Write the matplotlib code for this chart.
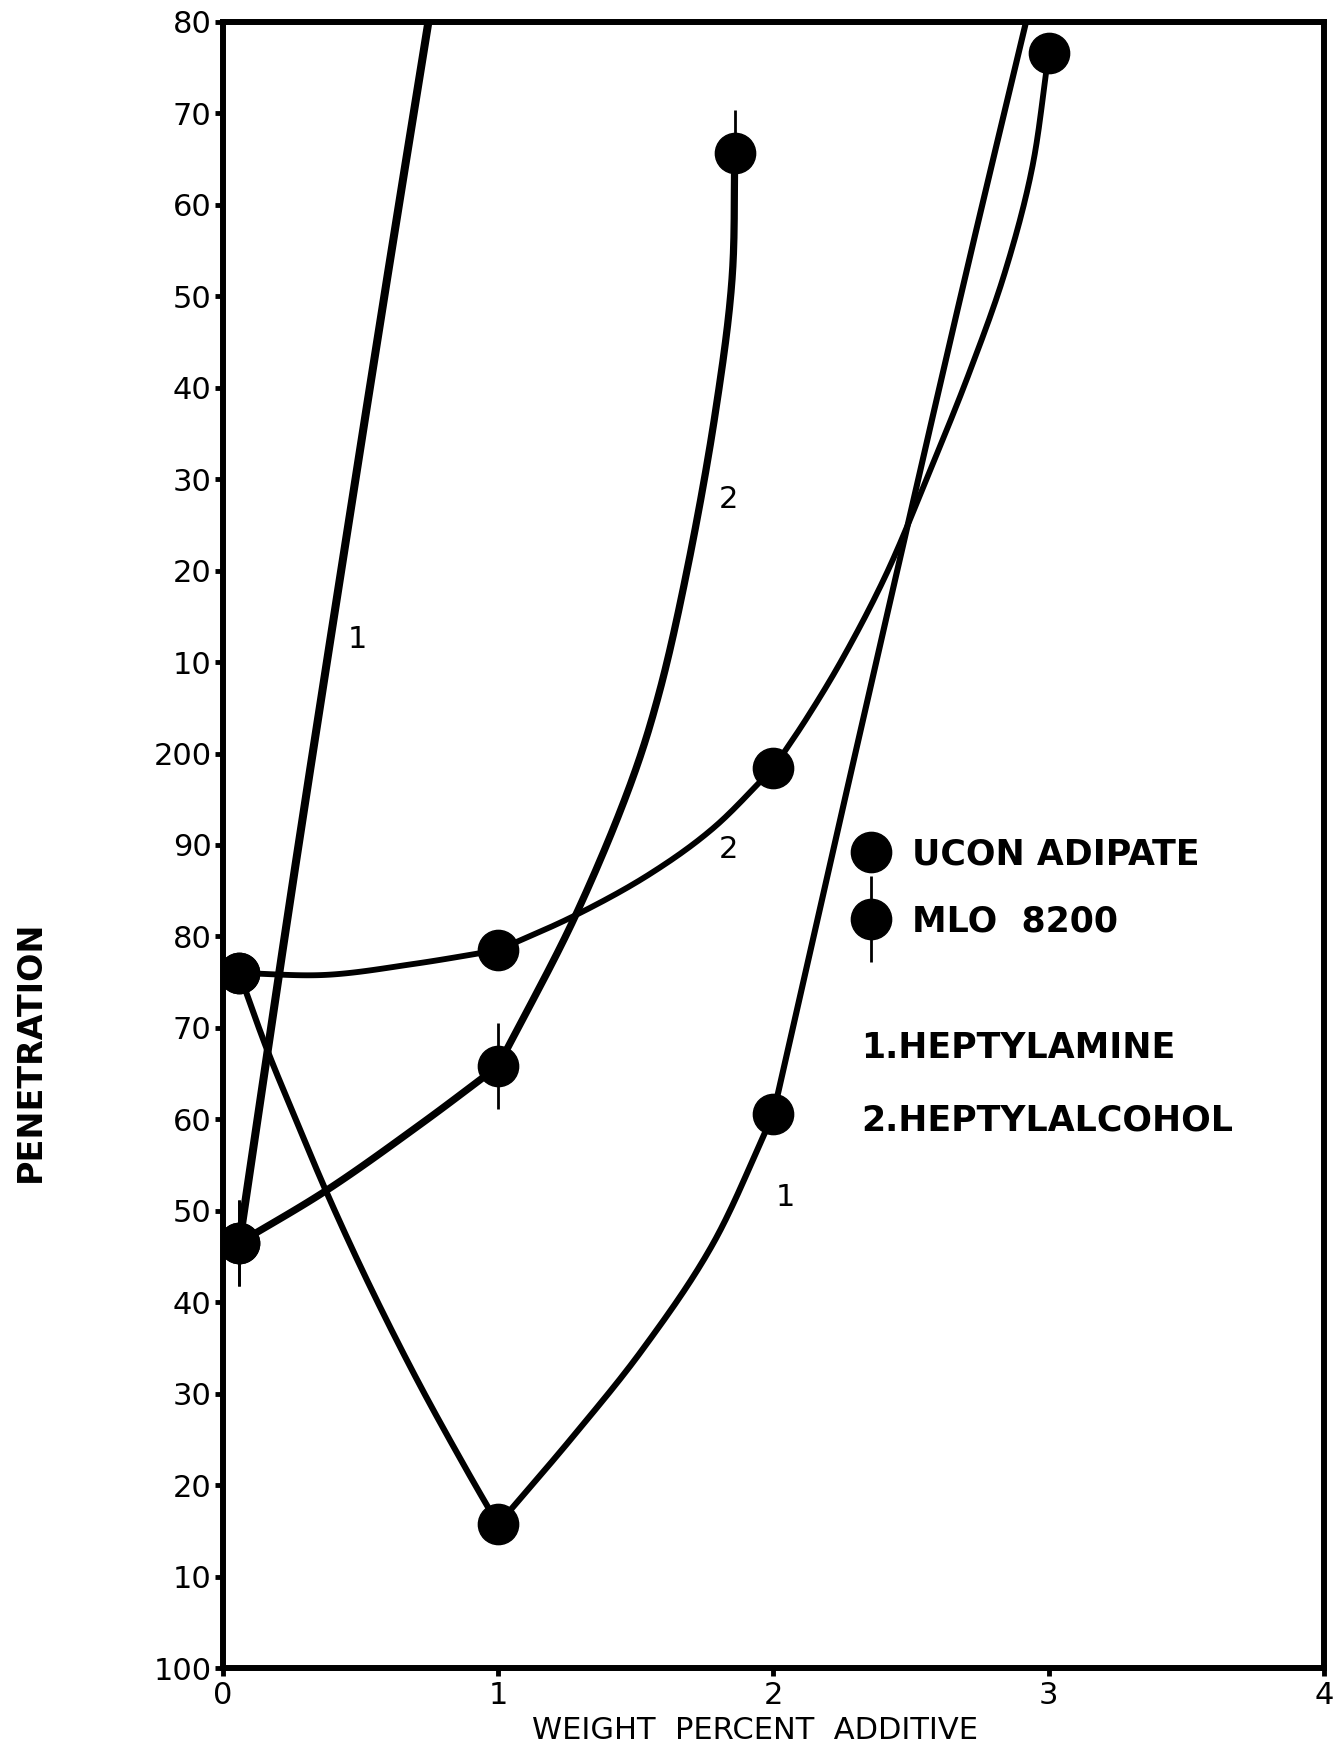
import numpy as np
import matplotlib
matplotlib.use("Agg")
import matplotlib.pyplot as plt
from matplotlib.lines import Line2D
from matplotlib.legend_handler import HandlerTuple

# measured points: weight percent additive vs penetration
ucon_amine_x = [0.06, 1.0, 2.0]
ucon_amine_y = [176.0, 115.7, 160.6]
ucon_alcohol_x = [0.06, 1.0, 2.0, 3.0]
ucon_alcohol_y = [176.0, 178.5, 198.4, 276.6]
mlo_amine_x = [0.06]
mlo_amine_y = [146.5]
mlo_alcohol_x = [0.06, 1.0, 1.86]
mlo_alcohol_y = [146.5, 165.8, 265.7]

# faired curves through the points (as drawn on the sheet)
ucon_amine_cx = [0.06, 0.16, 0.268, 0.376, 0.529, 0.708, 0.887, 1.0,
                 1.269, 1.524, 1.779, 2.0,
                 2.19, 2.45, 2.70, 2.918]
ucon_amine_cy = [176.0, 167.7, 159.8, 152.1, 142.1, 131.4, 121.6, 115.7,
                 125.2, 134.8, 146.3, 160.6,
                 185.8, 220.0, 252.5, 280.0]

ucon_alcohol_cx = [0.06, 0.376, 0.695, 1.0,
                   1.28, 1.55, 1.78, 2.0,
                   2.12, 2.25, 2.41, 2.57, 2.71, 2.84, 2.94, 3.0]
ucon_alcohol_cy = [176.0, 175.8, 177.0, 178.5,
                   182.3, 186.8, 191.8, 198.4,
                   203.8, 210.3, 219.6, 231.0, 241.5, 252.5, 264.0, 276.6]

mlo_amine_cx = [0.06, 0.25, 0.43, 0.60, 0.747]
mlo_amine_cy = [146.5, 185.0, 220.0, 252.5, 280.0]

mlo_alcohol_cx = [0.06, 0.38, 0.72, 1.0,
                  1.28, 1.484, 1.585, 1.687, 1.789, 1.85, 1.86]
mlo_alcohol_cy = [146.5, 152.3, 159.5, 165.8,
                  182.2, 196.9, 206.6, 220.1, 237.2, 251.9, 265.7]

yticks = list(range(100, 290, 10))
ytick_labels = [str(v) if v % 100 == 0 else str(v % 100) for v in yticks]
xticks = [0, 1, 2, 3, 4]


def centripetal_spline(p, n=40):
    # centripetal Catmull-Rom through the rows of p (screen units)
    p = np.vstack([2 * p[0] - p[1], p, 2 * p[-1] - p[-2]])
    out = []
    for i in range(1, len(p) - 2):
        p0, p1, p2, p3 = p[i - 1], p[i], p[i + 1], p[i + 2]
        t0 = 0.0
        t1 = t0 + np.linalg.norm(p1 - p0) ** 0.5
        t2 = t1 + np.linalg.norm(p2 - p1) ** 0.5
        t3 = t2 + np.linalg.norm(p3 - p2) ** 0.5
        t = np.linspace(t1, t2, n, endpoint=False)[:, None]
        a1 = (t1 - t) / (t1 - t0) * p0 + (t - t0) / (t1 - t0) * p1
        a2 = (t2 - t) / (t2 - t1) * p1 + (t - t1) / (t2 - t1) * p2
        a3 = (t3 - t) / (t3 - t2) * p2 + (t - t2) / (t3 - t2) * p3
        b1 = (t2 - t) / (t2 - t0) * a1 + (t - t0) / (t2 - t0) * a2
        b2 = (t3 - t) / (t3 - t1) * a2 + (t - t1) / (t3 - t1) * a3
        out.append((t2 - t) / (t2 - t1) * b1 + (t - t1) / (t2 - t1) * b2)
    out.append(p[-2][None, :])
    return np.vstack(out)


def draw_curve(ax, cx, cy, px, lw):
    # split the faired curve at the plotted points so corners stay sharp
    cuts = [i for i, x in enumerate(cx) if x in px]
    if cuts[-1] != len(cx) - 1:
        cuts.append(len(cx) - 1)
    pts = ax.transData.transform(np.column_stack([cx, cy]))
    inv = ax.transData.inverted()
    for a, b in zip(cuts[:-1], cuts[1:]):
        seg = inv.transform(centripetal_spline(pts[a:b + 1]))
        ax.plot(seg[:, 0], seg[:, 1], color="black", lw=lw,
                solid_capstyle="butt", zorder=2)


fig = plt.figure(figsize=(13.42, 17.54), dpi=100)
ax = fig.add_axes([0.1660, 0.0490, 0.8205, 0.9385])
ax.set_xlim(0, 4)
ax.set_ylim(100, 280)

draw_curve(ax, mlo_amine_cx, mlo_amine_cy, mlo_amine_x, 5.8)
draw_curve(ax, mlo_alcohol_cx, mlo_alcohol_cy, mlo_alcohol_x, 5.2)
draw_curve(ax, ucon_alcohol_cx, ucon_alcohol_cy, ucon_alcohol_x, 4.2)
draw_curve(ax, ucon_amine_cx, ucon_amine_cy, ucon_amine_x, 4.4)

ms = 29
ax.plot(ucon_amine_x + ucon_alcohol_x, ucon_amine_y + ucon_alcohol_y,
        ls="none", marker="o", ms=ms, color="black", zorder=4)
ax.plot(mlo_amine_x + mlo_alcohol_x, mlo_amine_y + mlo_alcohol_y,
        ls="none", marker="o", ms=ms, color="black", zorder=4)
ax.plot(mlo_amine_x + mlo_alcohol_x, mlo_amine_y + mlo_alcohol_y,
        ls="none", marker="|", ms=62, mew=2.0, color="black", zorder=4)

# curve numbers
ax.text(0.488, 212.5, "1", fontsize=22, ha="center", va="center")
ax.text(1.837, 227.8, "2", fontsize=22, ha="center", va="center")
ax.text(1.837, 189.5, "2", fontsize=22, ha="center", va="center")
ax.text(2.045, 151.4, "1", fontsize=22, ha="center", va="center")

ax.set_xlim(0, 4)
ax.set_ylim(100, 280)
ax.set_xticks(xticks)
ax.set_xticklabels([str(v) for v in xticks])
ax.set_yticks(yticks)
ax.set_yticklabels(ytick_labels)
ax.tick_params(axis="both", direction="out", length=6, width=3.5,
               labelsize=22, color="black")
ax.tick_params(axis="y", pad=2)
ax.tick_params(axis="x", pad=3)
for s in ax.spines.values():
    s.set_linewidth(4.3)
    s.set_zorder(5)

ax.set_xlabel("WEIGHT  PERCENT  ADDITIVE", fontsize=22)
ax.xaxis.set_label_coords(0.483, -0.029)
ax.set_ylabel("PENETRATION", fontsize=24, fontweight="bold")
ax.yaxis.set_label_coords(-0.160, 0.375)

# key
h_ucon = Line2D([], [], ls="none", marker="o", ms=ms, color="black")
h_mlo = (Line2D([], [], ls="none", marker="o", ms=ms, color="black"),
         Line2D([], [], ls="none", marker="|", ms=62, mew=2.0, color="black"))
leg1 = ax.legend([h_ucon, h_mlo], ["UCON ADIPATE", "MLO  8200"],
                 handler_map={tuple: HandlerTuple(ndivide=1)},
                 loc="center left", bbox_to_anchor=(0.5727, 0.474),
                 frameon=False, borderpad=0, borderaxespad=0,
                 handlelength=1.0, handletextpad=0.7, labelspacing=0.95,
                 prop={"size": 25, "weight": "bold"})
ax.add_artist(leg1)
blank = Line2D([], [], ls="none")
ax.legend([blank, blank], ["1.HEPTYLAMINE", "2.HEPTYLALCOHOL"],
          loc="center left", bbox_to_anchor=(0.580, 0.3545),
          frameon=False, borderpad=0, borderaxespad=0,
          handlelength=0, handletextpad=0, labelspacing=1.1,
          prop={"size": 25, "weight": "bold"})

fig.savefig("out.png", dpi=100, facecolor="white")
